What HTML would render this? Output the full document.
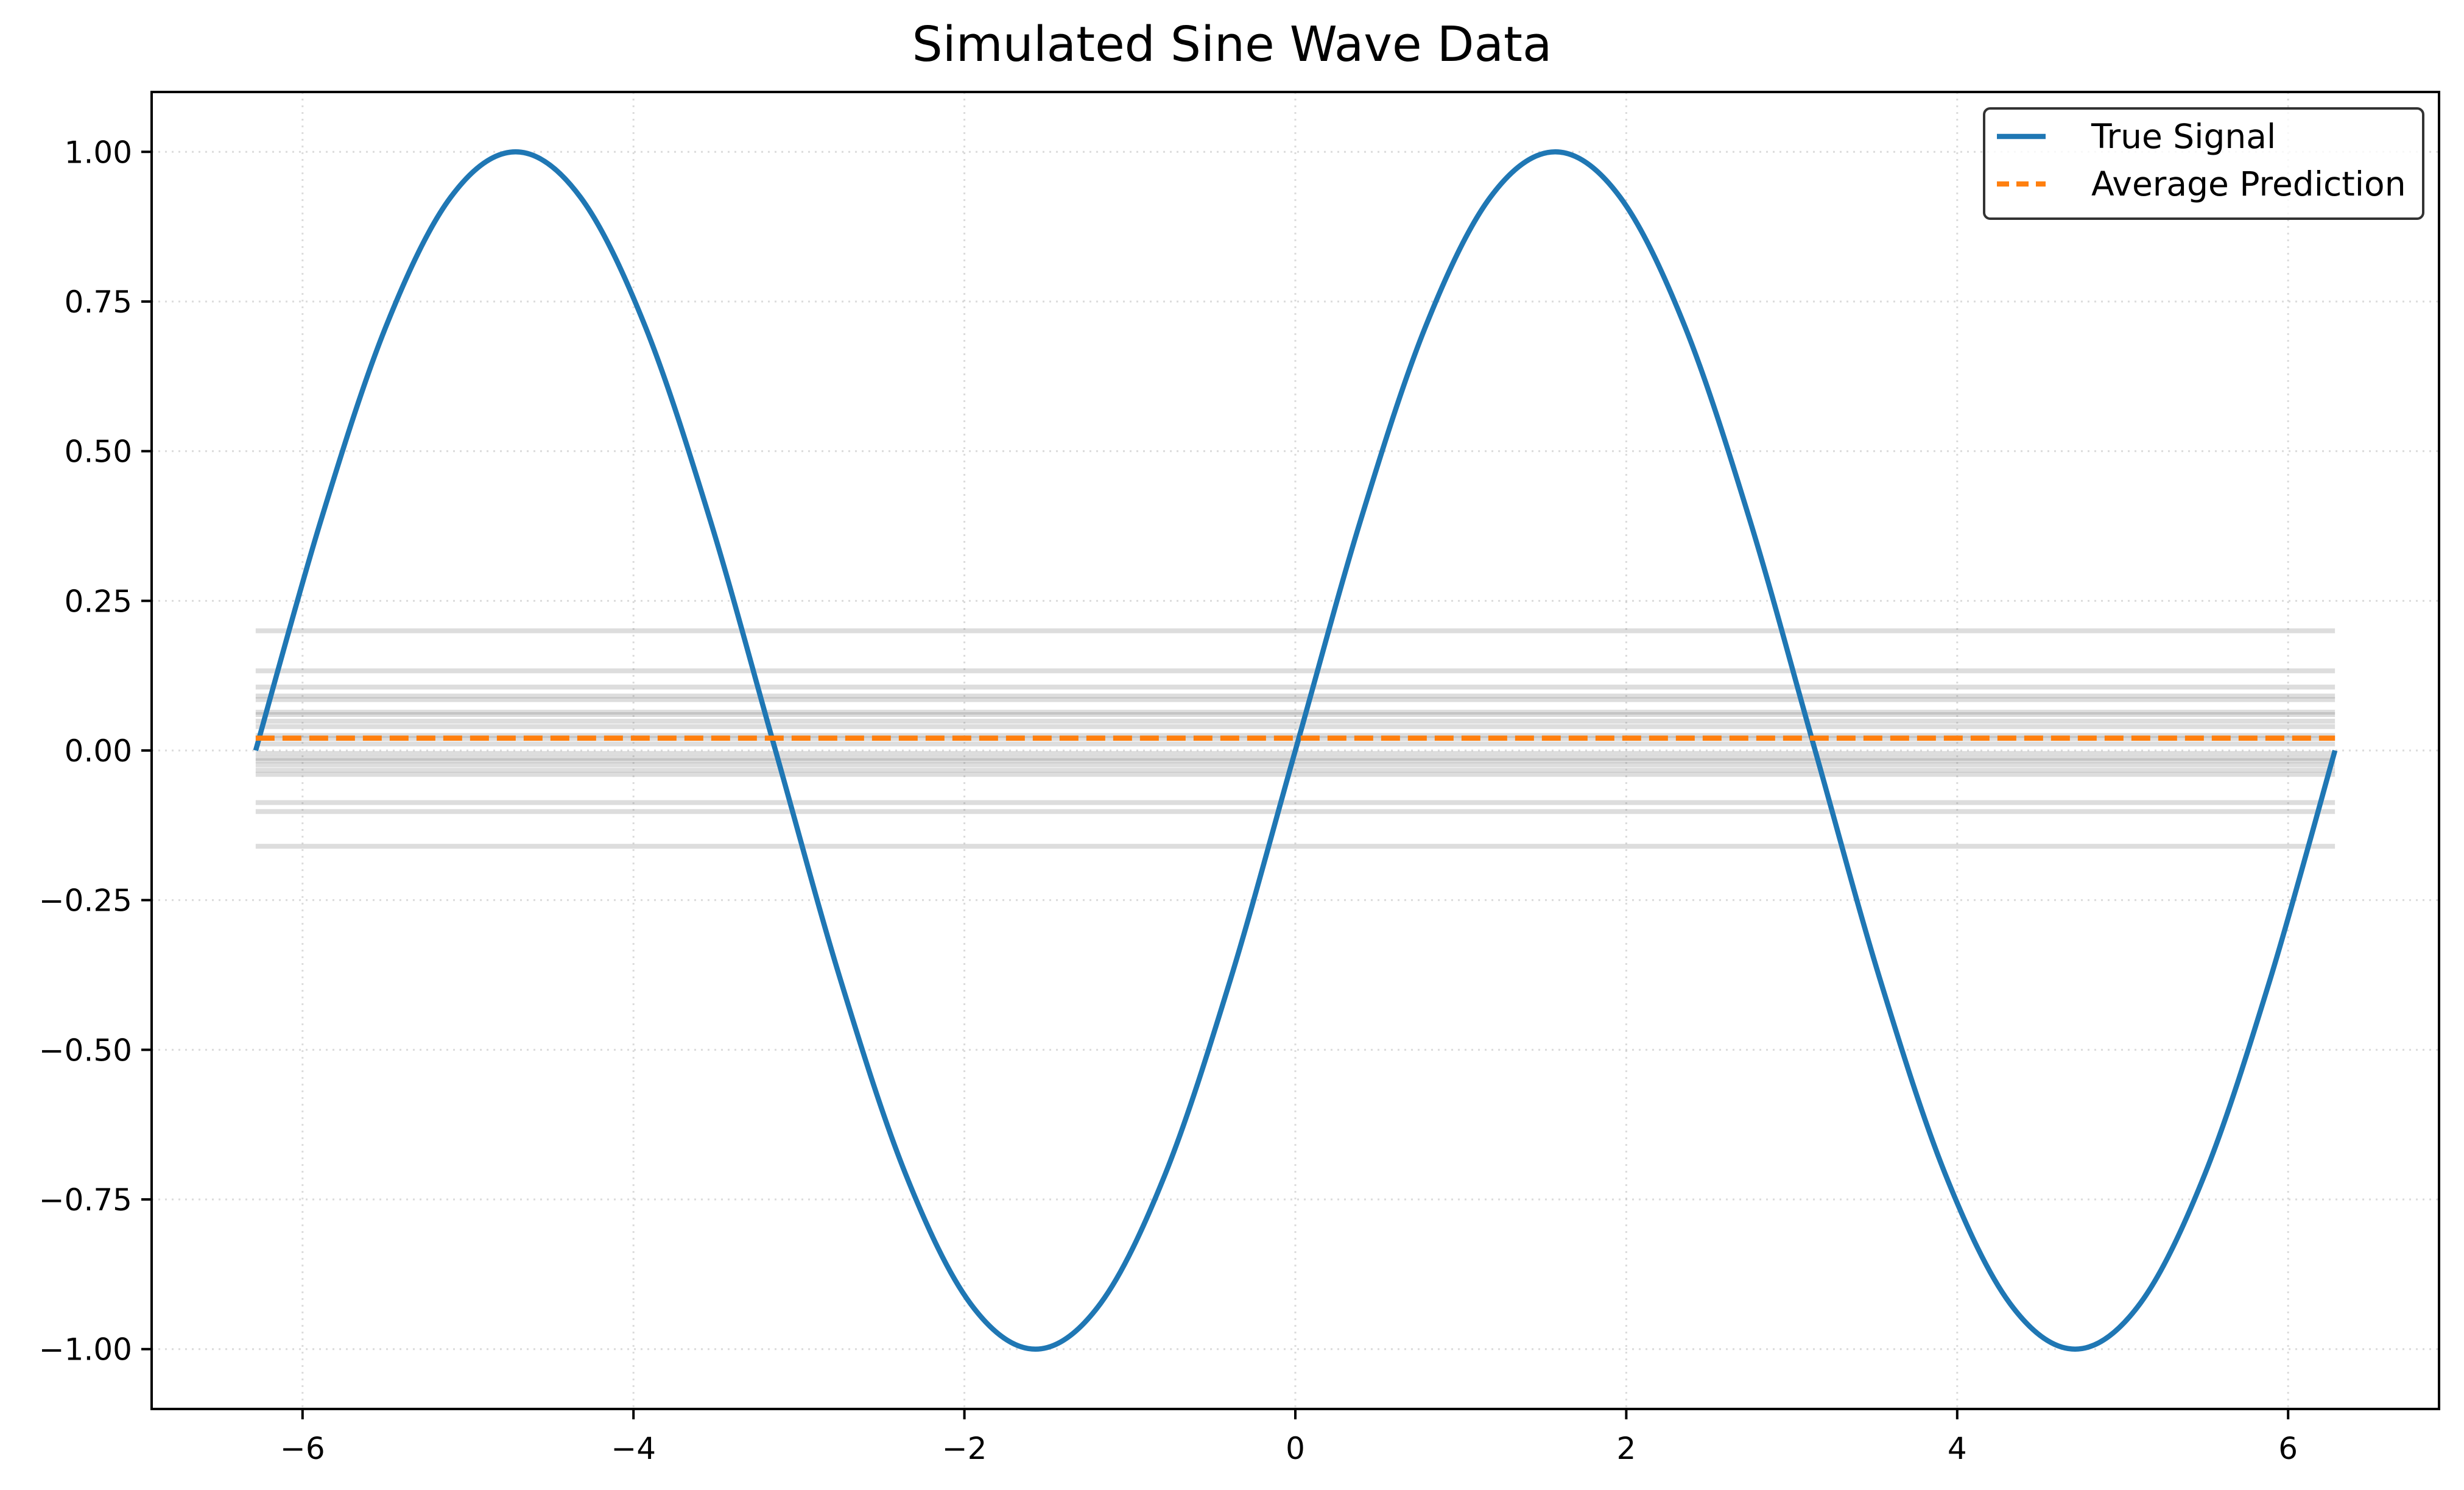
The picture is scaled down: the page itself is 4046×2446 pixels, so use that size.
<!DOCTYPE html>
<html><head><meta charset="utf-8"><style>
html,body{margin:0;padding:0;background:#fff;}
svg{display:block;font-family:"DejaVu Sans","Liberation Sans",sans-serif;}
</style></head><body>
<svg id="chart" width="4046" height="2446" viewBox="0 0 4046 2446" xmlns="http://www.w3.org/2000/svg">
<rect x="0" y="0" width="4046" height="2446" fill="#fff"/>
<text x="2023" y="100" font-size="79" text-anchor="middle" fill="#000">Simulated Sine Wave Data</text>
<g id="grid"></g>
<g id="preds"></g>
<g id="series"></g>
<g id="axes"></g>
<g>
  <rect x="3258" y="178" width="721" height="181" rx="10" fill="#fff" fill-opacity="0.8" stroke="#333" stroke-width="4"/>
  <line x1="3279" y1="224" x2="3359" y2="224" stroke="#1f77b4" stroke-width="8.5"/>
  <text x="3434" y="243" font-size="55" fill="#000">True Signal</text>
  <line x1="3279" y1="302" x2="3359" y2="302" stroke="#ff7f0e" stroke-width="8.5" stroke-dasharray="20,12"/>
  <text x="3434" y="321" font-size="55" fill="#000">Average Prediction</text>
</g>
</svg>
<script>
const xTicks = [-6, -4, -2, 0, 2, 4, 6];
const xTickLabels = ["\u22126", "\u22124", "\u22122", "0", "2", "4", "6"];
const yTicks = [1.0, 0.75, 0.5, 0.25, 0, -0.25, -0.5, -0.75, -1.0];
const yTickLabels = ["1.00", "0.75", "0.50", "0.25", "0.00", "\u22120.25", "\u22120.50", "\u22120.75", "\u22121.00"];
const xStart = -6.2832;
const xEnd = 6.2832;
const signalValues = [0, 0.383, 0.707, 0.924, 1, 0.924, 0.707, 0.383, 0, -0.383, -0.707, -0.924, -1, -0.924, -0.707, -0.383, 0, 0.383, 0.707, 0.924, 1, 0.924, 0.707, 0.383, 0, -0.383, -0.707, -0.924, -1, -0.924, -0.707, -0.383, 0];
const predictionValues = [0.200, 0.133, 0.106, 0.091, 0.085, 0.064, 0.060, 0.049, 0.040, 0.025, 0.020, 0.011, -0.005, -0.013, -0.017, -0.024, -0.033, -0.040, -0.087, -0.102, -0.160];
const averagePrediction = 0.0206;

const L = 249, R = 4005, T = 151, B = 2313;
const xMin = -6.912, xMax = 6.912, yMin = -1.1, yMax = 1.1;
function sx(v){ return L + (v - xMin) / (xMax - xMin) * (R - L); }
function sy(v){ return B - (v - yMin) / (yMax - yMin) * (B - T); }
const NS = "http://www.w3.org/2000/svg";
function mk(tag, attrs, parent){
  const e = document.createElementNS(NS, tag);
  for (const k in attrs) e.setAttribute(k, attrs[k]);
  parent.appendChild(e);
  return e;
}
const grid = document.getElementById('grid');
const axes = document.getElementById('axes');
const preds = document.getElementById('preds');
const series = document.getElementById('series');

xTicks.forEach((v, i) => {
  const g = mk('line', {x1: sx(v), x2: sx(v), y1: T, y2: B, stroke: '#b0b0b0', 'stroke-opacity': 0.45, 'stroke-width': 3, 'stroke-dasharray': '3,8'}, grid);
  
  
  const t = mk('line', {x1: sx(v), x2: sx(v), y1: B, y2: B + 17, stroke: '#000', 'stroke-width': 4}, axes);
  
  
  const lb = mk('text', {x: sx(v), y: B + 82, 'font-size': 50, 'text-anchor': 'middle', fill: '#000'}, axes);
  lb.textContent = xTickLabels[i];
  
  
});
yTicks.forEach((v, i) => {
  const g = mk('line', {x1: L, x2: R, y1: sy(v), y2: sy(v), stroke: '#b0b0b0', 'stroke-opacity': 0.45, 'stroke-width': 3, 'stroke-dasharray': '3,8'}, grid);
  
  
  const t = mk('line', {x1: L - 17, x2: L, y1: sy(v), y2: sy(v), stroke: '#000', 'stroke-width': 4}, axes);
  
  
  const lb = mk('text', {x: L - 32, y: sy(v) + 18, 'font-size': 50, 'text-anchor': 'end', fill: '#000'}, axes);
  lb.textContent = yTickLabels[i];
  
  
});
const frame = mk('rect', {x: L, y: T, width: R - L, height: B - T, fill: 'none', stroke: '#000', 'stroke-width': 4}, axes);



predictionValues.forEach(v => {
  const p = mk('line', {x1: sx(xStart), x2: sx(xEnd), y1: sy(v), y2: sy(v), stroke: '#808080', 'stroke-opacity': 0.27, 'stroke-width': 8}, preds);
  
  
});

const n = signalValues.length;
const step = (xEnd - xStart) / (n - 1);
const pts = signalValues.map((v, i) => [sx(xStart + i * step), sy(v)]);
let d = 'M' + pts[0][0].toFixed(2) + ',' + pts[0][1].toFixed(2);
for (let i = 0; i < n - 1; i++) {
  const p0 = pts[Math.max(0, i - 1)], p1 = pts[i], p2 = pts[i + 1], p3 = pts[Math.min(n - 1, i + 2)];
  const c1 = [p1[0] + (p2[0] - p0[0]) / 6, p1[1] + (p2[1] - p0[1]) / 6];
  const c2 = [p2[0] - (p3[0] - p1[0]) / 6, p2[1] - (p3[1] - p1[1]) / 6];
  d += ' C' + c1[0].toFixed(2) + ',' + c1[1].toFixed(2) + ' ' + c2[0].toFixed(2) + ',' + c2[1].toFixed(2) + ' ' + p2[0].toFixed(2) + ',' + p2[1].toFixed(2);
}
const sig = mk('path', {d: d, fill: 'none', stroke: '#1f77b4', 'stroke-width': 8.5, 'stroke-linejoin': 'round'}, series);



const avg = mk('line', {x1: sx(xStart), x2: sx(xEnd), y1: sy(averagePrediction), y2: sy(averagePrediction), stroke: '#ff7f0e', 'stroke-width': 8.5, 'stroke-dasharray': '31,13'}, series);


</script>
</body></html>
